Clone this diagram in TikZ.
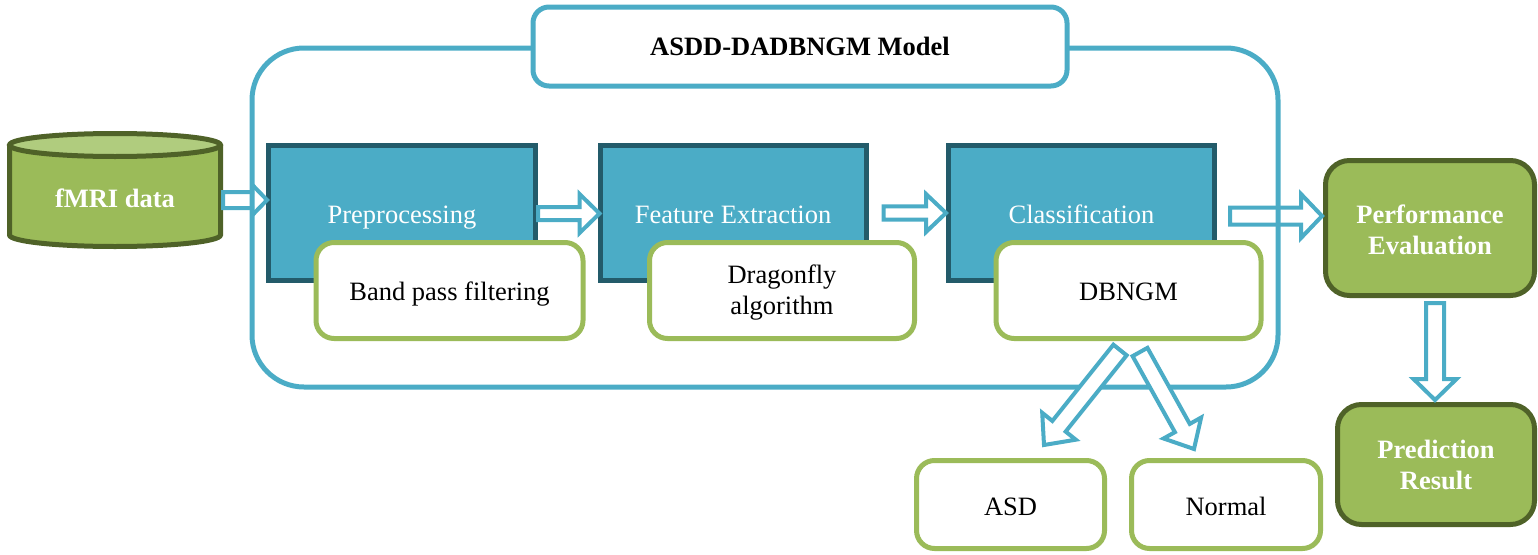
\documentclass[tikz,border=0pt]{standalone}
\usepackage{fontspec}
\setmainfont{Liberation Serif}
\usetikzlibrary{calc}
\definecolor{blueL}{HTML}{4BACC6}
\definecolor{blueD}{HTML}{235B6A}
\definecolor{greenF}{HTML}{9BBB59}
\definecolor{greenT}{HTML}{B0CC7E}
\definecolor{greenD}{HTML}{4F6228}
\tikzset{
 txt/.style={font=\fontsize{26.5}{31}\selectfont, align=center, inner sep=0pt, text height=20pt, text depth=0pt},
 twoline/.style={text height=#1, text depth=0pt},
 procbox/.style={txt, draw=blueD, fill=blueL, line width=5pt, text=white, minimum width=267pt, minimum height=135pt},
 subbox/.style={txt, draw=greenF, fill=white, line width=5pt, rounded corners=18pt, minimum width=267pt, minimum height=96pt},
 outbox/.style={txt, draw=greenF, fill=white, line width=5pt, rounded corners=18pt, minimum width=188pt, minimum height=88pt},
 resbox/.style={txt, draw=greenD, fill=greenF, line width=5pt, rounded corners=24pt, text=white, font=\fontsize{26.5}{31}\selectfont\bfseries},
 modelbox/.style={draw=blueL, line width=5pt, rounded corners=52pt, inner sep=0pt},
 titlebox/.style={txt, draw=blueL, fill=white, line width=5pt, rounded corners=16pt, minimum width=534pt, minimum height=79pt, font=\fontsize{26.5}{31}\selectfont\bfseries, text height=17pt},
 cylbody/.style={fill=greenF},
 cyledge/.style={draw=greenD, line width=5pt},
 barrowsty/.style={draw=blueL, fill=white, line width=4pt, line join=miter}
}
% #1 start, #2 tip, #3 half shaft, #4 half head, #5 head length
\newcommand\blockarr[5]{%
\filldraw[barrowsty] let \p1=(#1), \p2=(#2),
  \n1={veclen(\x2-\x1,\y2-\y1)},
  \n2={(\x2-\x1)/\n1}, \n3={(\y2-\y1)/\n1},
  \n4={\x1+(\n2)*(\n1-#5)}, \n5={\y1+(\n3)*(\n1-#5)} in
  ({\x1-(\n3)*#3},{\y1+(\n2)*#3}) -- ({\n4-(\n3)*#3},{\n5+(\n2)*#3}) --
  ({\n4-(\n3)*#4},{\n5+(\n2)*#4}) -- (\p2) --
  ({\n4+(\n3)*#4},{\n5-(\n2)*#4}) -- ({\n4+(\n3)*#3},{\n5-(\n2)*#3}) --
  ({\x1+(\n3)*#3},{\y1-(\n2)*#3}) -- cycle;}
\begin{document}
\begin{tikzpicture}[x=1pt,y=1pt]
\useasboundingbox (0,0) rectangle (1538,-554);
% cylinder
\fill[cylbody] (9.5,-145) -- (9.5,-235) arc[start angle=180,end angle=360,x radius=105.5,y radius=11.5] -- (220.5,-145) -- cycle;
\draw[cyledge] (9.5,-145) -- (9.5,-235) arc[start angle=180,end angle=360,x radius=105.5,y radius=11.5] -- (220.5,-145);
\filldraw[cyledge, fill=greenT] (115,-145) ellipse[x radius=105.5, y radius=11.5];
\node[txt, text=white, font=\fontsize{26.5}{31}\selectfont\bfseries, minimum width=216pt] (fmri) at (115,-197) {fMRI data};
% process boxes
\node[procbox] (pre) at (402,-213) {Preprocessing};
\node[procbox, minimum width=266pt] (feat) at (733,-213) {Feature Extraction};
\node[procbox, minimum width=266pt] (cls) at (1081.5,-213) {Classification};
\node[subbox] (band) at (449.5,-290.5) {Band pass filtering};
\node[subbox, minimum width=265pt, twoline=47pt] (drag) at (782,-290.5) {Dragonfly\\algorithm};
\node[subbox, minimum width=265pt, text height=19pt] (dbn) at (1128.5,-290.5) {DBNGM};
% results
\node[resbox, minimum width=209pt, minimum height=135pt, twoline=52pt] (perf) at (1430,-228) {Performance\\Evaluation};
\node[resbox, minimum width=197pt, minimum height=120pt, twoline=50pt] (pred) at (1436,-464.5) {Prediction\\Result};
% straight block arrows
\coordinate (a1s) at (115,-200 -| fmri.east);
\coordinate (a1e) at ($(a1s -| pre.west)+(1,0)$);
\blockarr{a1s}{a1e}{8}{15.5}{15}
\coordinate (a2s) at ($(pre.east)+(0,-0.5)$);
\coordinate (a2e) at ($(a2s -| feat.west)+(2,0)$);
\blockarr{a2s}{a2e}{6.5}{19.5}{20}
\coordinate (a3s) at ($(feat.east)+(15,0)$);
\coordinate (a3e) at ($(a3s -| cls.west)+(0,0)$);
\blockarr{a3s}{a3e}{6.7}{19}{20}
\coordinate (a4s) at ($(cls.east)+(13,-3)$);
\coordinate (a4e) at ($(a4s -| perf.west)+(-1,0)$);
\blockarr{a4s}{a4e}{8.5}{22}{21}
\coordinate (a5s) at ($(perf.south)+(5,-5)$);
\coordinate (a5e) at ($(a5s |- pred.north)+(0,2)$);
\blockarr{a5s}{a5e}{9}{21.5}{21}
% model frame and title
\node[modelbox, minimum width=1026pt, minimum height=339pt] (model) at (765,-217.5) {};
\node[titlebox] (title) at (800,-46.5) {ASDD-DADBNGM Model};
% outcome boxes
\node[outbox, text height=21pt] (asd) at (1010.5,-504.5) {ASD};
\node[outbox, minimum width=189pt, text height=21pt] (normal) at (1226,-504.5) {Normal};
% diagonal arrows
\coordinate (dr1) at ($(dbn.south)+(11.5,-11)$);
\coordinate (dr2) at ($(normal.north)+(-32,9)$);
\blockarr{dr1}{dr2}{8.5}{21.5}{24}
\coordinate (dl1) at ($(dbn.south)+(-8.5,-9)$);
\coordinate (dl2) at ($(asd.north)+(33.5,13)$);
\blockarr{dl1}{dl2}{8.5}{21.5}{24}
\end{tikzpicture}
\end{document}
